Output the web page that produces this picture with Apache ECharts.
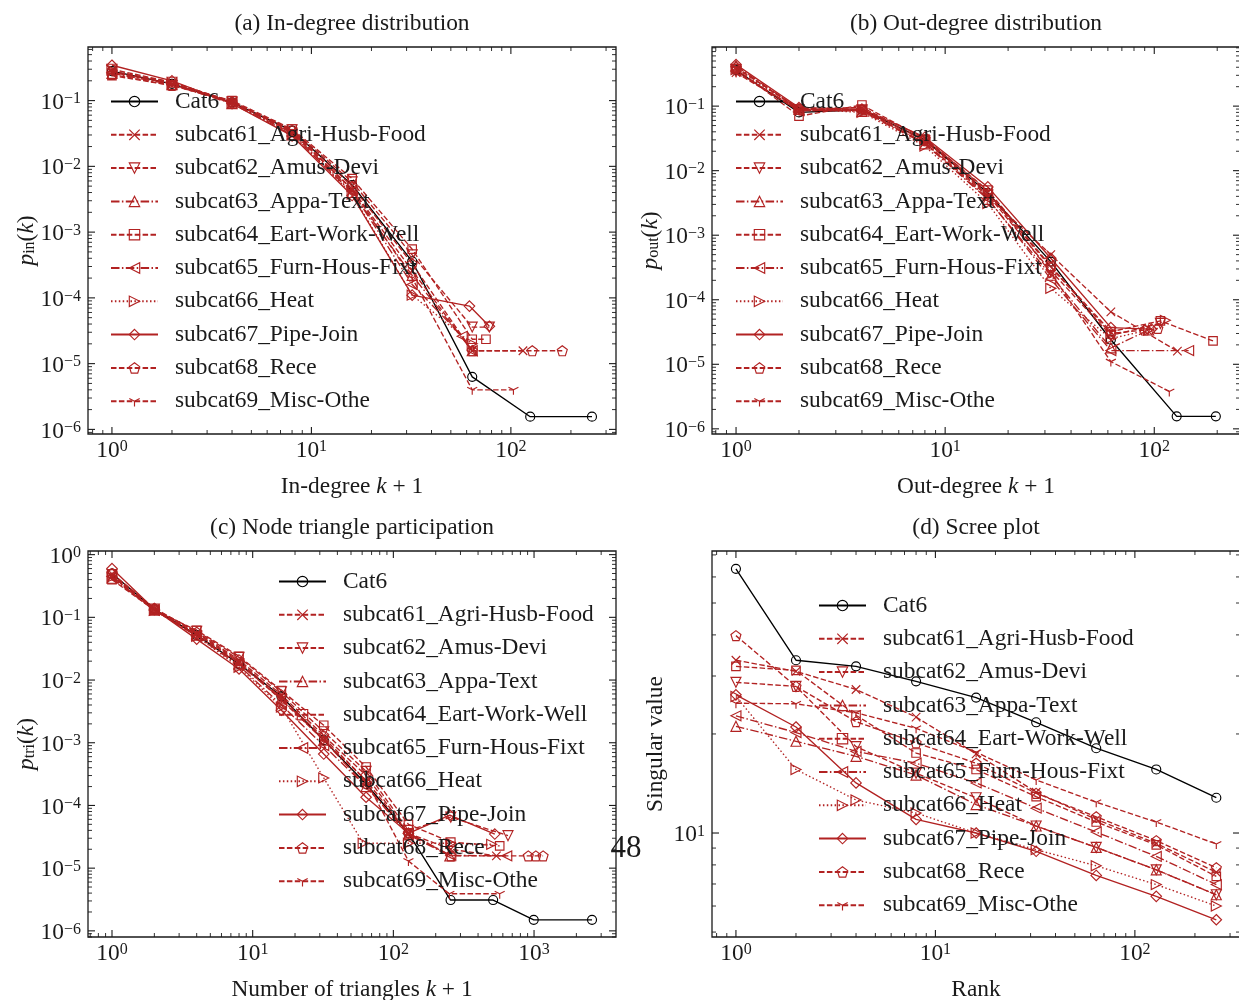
<!DOCTYPE html>
<html>
<head>
<meta charset="utf-8">
<script src="https://cdn.jsdelivr.net/npm/echarts@6/dist/echarts.min.js"></script>
<style>
  html, body { margin: 0; padding: 0; background: #fff; }
  #chart { width: 1239px; height: 1000px; }
</style>
</head>
<body>
<div id="chart"></div>
<script>
// ---------------- data ----------------
const seriesNames = [
  'Cat6', 'subcat61_Agri-Husb-Food', 'subcat62_Amus-Devi', 'subcat63_Appa-Text',
  'subcat64_Eart-Work-Well', 'subcat65_Furn-Hous-Fixt', 'subcat66_Heat',
  'subcat67_Pipe-Join', 'subcat68_Rece', 'subcat69_Misc-Othe'
];

// (a) in-degree: k+1 and p_in(k), one list per series (same order as seriesNames)
const inDegK = [
  [1, 2, 4, 8, 16, 32, 64, 125, 255],
  [1, 2, 4, 8, 16, 32, 64, 115],
  [1, 2, 4, 8, 16, 32, 64, 78],
  [1, 2, 4, 8, 16, 32, 64],
  [1, 2, 4, 8, 16, 32, 64, 75],
  [1, 2, 4, 8, 16, 32, 57, 64],
  [1, 2, 4, 8, 16, 32, 64],
  [1, 2, 4, 8, 16, 32, 62, 78],
  [1, 2, 4, 8, 16, 32, 64, 128, 181],
  [1, 2, 4, 8, 16, 32, 64, 103]
];
const inDegP = [
  [0.28, 0.18, 0.094, 0.035, 0.0052, 3.6e-4, 6.3e-6, 1.56e-6, 1.56e-6],
  [0.27, 0.18, 0.095, 0.034, 0.0045, 2.6e-4, 1.57e-5, 1.57e-5],
  [0.30, 0.19, 0.096, 0.036, 0.0058, 4.5e-4, 3.6e-5, 3.6e-5],
  [0.26, 0.175, 0.090, 0.030, 0.0040, 2.2e-4, 1.57e-5],
  [0.24, 0.17, 0.100, 0.037, 0.0065, 5.5e-4, 2.35e-5, 2.35e-5],
  [0.27, 0.18, 0.093, 0.032, 0.0042, 1.6e-4, 2.6e-5, 1.57e-5],
  [0.29, 0.18, 0.092, 0.031, 0.0038, 1.1e-4, 2.0e-5],
  [0.345, 0.20, 0.090, 0.029, 0.0036, 1.1e-4, 7.5e-5, 3.7e-5],
  [0.25, 0.17, 0.095, 0.035, 0.0050, 3.3e-4, 1.57e-5, 1.57e-5, 1.57e-5],
  [0.28, 0.19, 0.097, 0.033, 0.0045, 2.0e-4, 4.0e-6, 4.0e-6]
];

// (b) out-degree: k+1 and p_out(k)
const outDegK = [
  [1, 2, 4, 8, 16, 32, 62, 128, 197],
  [1, 2, 4, 8, 16, 32, 62, 129],
  [1, 2, 4, 8, 16, 32, 62, 107],
  [1, 2, 4, 8, 16, 32, 62, 94],
  [1, 2, 4, 8, 16, 32, 62, 107, 191],
  [1, 2, 4, 8, 16, 32, 62, 146],
  [1, 2, 4, 8, 16, 32, 62, 94, 113],
  [1, 2, 4, 8, 16, 32, 62, 97],
  [1, 2, 4, 8, 16, 32, 62, 90, 104],
  [1, 2, 4, 8, 16, 32, 62, 118]
];
const outDegP = [
  [0.36, 0.080, 0.088, 0.030, 0.0045, 3.9e-4, 2.4e-5, 1.56e-6, 1.56e-6],
  [0.33, 0.085, 0.085, 0.027, 0.0040, 5.0e-4, 6.5e-5, 1.6e-5],
  [0.34, 0.088, 0.088, 0.029, 0.0042, 2.8e-4, 2.8e-5, 4.3e-5],
  [0.42, 0.090, 0.083, 0.026, 0.0036, 2.4e-4, 1.8e-5, 3.4e-5],
  [0.38, 0.070, 0.104, 0.031, 0.0050, 3.3e-4, 3.2e-5, 4.7e-5, 2.3e-5],
  [0.35, 0.085, 0.086, 0.027, 0.0037, 2.1e-4, 1.63e-5, 1.63e-5],
  [0.37, 0.090, 0.080, 0.024, 0.0031, 1.5e-4, 2.5e-5, 3.4e-5, 4.8e-5],
  [0.44, 0.095, 0.090, 0.033, 0.0056, 4.4e-4, 3.7e-5, 3.5e-5],
  [0.40, 0.090, 0.087, 0.030, 0.0045, 3.2e-4, 3.0e-5, 3.4e-5, 3.6e-5],
  [0.39, 0.092, 0.095, 0.032, 0.0048, 2.6e-4, 1.1e-5, 3.8e-6]
];

// (c) node triangle participation: k+1 and p_tri(k)
const triK = [
  [1, 2, 4, 8, 16, 32, 64, 128, 255, 512, 995, 2583],
  [1, 2, 4, 8, 16, 32, 64, 128, 256, 540],
  [1, 2, 4, 8, 16, 32, 64, 128, 256, 653],
  [1, 2, 4, 8, 16, 32, 64, 128, 252],
  [1, 2, 4, 8, 16, 32, 64, 128, 256, 570],
  [1, 2, 4, 8, 16, 32, 64, 128, 256, 640],
  [1, 2, 4, 8, 16, 32, 61, 128, 256, 500],
  [1, 2, 4, 8, 16, 32, 64, 128, 252, 526],
  [1, 2, 4, 8, 16, 32, 64, 128, 256, 910, 1030, 1160],
  [1, 2, 4, 8, 16, 32, 64, 128, 250, 570]
];
const triP = [
  [0.50, 0.135, 0.052, 0.018, 0.0055, 0.0011, 2.2e-4, 3.6e-5, 3.1e-6, 3.1e-6, 1.5e-6, 1.5e-6],
  [0.45, 0.130, 0.055, 0.019, 0.0048, 0.0011, 2.5e-4, 3.6e-5, 2.0e-5, 1.57e-5],
  [0.48, 0.135, 0.060, 0.023, 0.0065, 0.0015, 3.5e-4, 4.0e-5, 6.5e-5, 3.3e-5],
  [0.42, 0.130, 0.052, 0.018, 0.0050, 0.0011, 2.0e-4, 3.4e-5, 1.57e-5],
  [0.40, 0.130, 0.062, 0.024, 0.0068, 0.0019, 4.1e-4, 5.0e-5, 2.6e-5, 2.26e-5],
  [0.45, 0.130, 0.050, 0.017, 0.0040, 9.0e-4, 2.0e-4, 3.6e-5, 1.6e-5, 1.57e-5],
  [0.44, 0.130, 0.050, 0.016, 0.0037, 2.75e-4, 2.5e-5, 2.5e-5, 2.5e-5, 2.4e-5],
  [0.60, 0.135, 0.045, 0.015, 0.0033, 6.6e-4, 1.35e-4, 3.6e-5, 7.0e-5, 3.5e-5],
  [0.50, 0.140, 0.058, 0.021, 0.0058, 0.0013, 3.0e-4, 3.6e-5, 1.57e-5, 1.57e-5, 1.57e-5, 1.57e-5],
  [0.47, 0.130, 0.056, 0.020, 0.0052, 0.0012, 2.5e-4, 1.3e-5, 3.9e-6, 3.9e-6]
];

// (d) scree plot: rank and singular value
const screeRank = [1, 2, 4, 8, 16, 32, 64, 128, 256];
const screeSV = [
  [63.5, 33.5, 32.1, 28.9, 25.8, 21.7, 18.1, 15.6, 12.8],
  [33.5, 31.0, 27.3, 22.5, 17.4, 13.3, 11.0, 9.3, 7.6],
  [28.7, 27.9, 18.3, 15.2, 12.8, 10.5, 9.04, 7.73, 6.49],
  [21.1, 19.0, 17.1, 15.0, 12.2, 10.5, 9.04, 7.73, 6.49],
  [32.1, 31.2, 22.8, 17.5, 15.6, 12.9, 10.8, 9.2, 7.38],
  [22.7, 20.2, 17.7, 16.3, 14.2, 11.9, 10.07, 8.49, 6.97],
  [26.0, 15.6, 12.6, 11.5, 10.0, 8.9, 7.95, 6.97, 6.0],
  [26.3, 21.0, 14.2, 11.0, 10.0, 8.8, 7.43, 6.42, 5.45],
  [39.8, 27.9, 21.8, 18.8, 16.3, 13.2, 11.2, 9.48, 7.84],
  [24.8, 24.7, 23.2, 20.8, 17.6, 14.5, 12.4, 10.8, 9.26]
];

// decade tick labels (exponents of 10) per panel
const tickExpX = [[0, 1, 2], [0, 1, 2], [0, 1, 2, 3], [0, 1, 2]];
const tickExpY = [[-6, -5, -4, -3, -2, -1], [-6, -5, -4, -3, -2, -1], [-6, -5, -4, -3, -2, -1, 0], [1]];

// ---------------- styles & layout ----------------
const FONT = '"Liberation Serif", "Times New Roman", serif';
const FS = 23.4;
const INK = '#1a1a1a';
const RED = '#b22222';
const seriesColor = ['#000000', RED, RED, RED, RED, RED, RED, RED, RED, RED];
const seriesMarker = ['o', 'x', 'v', '^', 's', '<', '>', 'D', 'p', '1'];
const seriesDash = ['solid', 'dashed', 'dashed', 'dashdot', 'dashed', 'dashdot', 'dotted', 'solid', 'dashed', 'dashed'];
const DASH = { solid: 'solid', dashed: [5.5, 2.4], dashdot: [8.5, 2.4, 1.5, 2.4], dotted: [1.5, 2.4] };
const MARKS = {
  'o': { symbol: 'circle', size: 9 },
  'x': { symbol: 'path://M0,0L10,10M10,0L0,10', size: 8.5 },
  'v': { symbol: 'path://M0,0L10,0L5,10Z', size: 10 },
  '^': { symbol: 'path://M5,0L10,10L0,10Z', size: 10 },
  's': { symbol: 'rect', size: 8.5 },
  '<': { symbol: 'path://M0,5L10,0L10,10Z', size: 10 },
  '>': { symbol: 'path://M10,5L0,0L0,10Z', size: 10 },
  'D': { symbol: 'path://M5,0L10,5L5,10L0,5Z', size: 10.5 },
  'p': { symbol: 'path://M5,0L9.76,3.45L7.94,9.05L2.06,9.05L0.24,3.45Z', size: 10 },
  '1': { symbol: 'path://M5,0L5,0M5,5L5,10M5,5L0.67,2.5M5,5L9.33,2.5', size: 10 }
};

// log10 axis extents of each panel
const panelRange = [
  { x: [-0.12, 2.527], y: [-6.07, -0.185] },
  { x: [-0.115, 2.41], y: [-6.08, -0.084] },
  { x: [-0.1706, 3.5826], y: [-6.098, 0.058] },
  { x: [-0.12, 2.527], y: [0.684, 1.857] }
];
const grids = [
  { left: 88, top: 47, width: 528, height: 387 },
  { left: 712, top: 47, width: 528, height: 387 },
  { left: 88, top: 551, width: 528, height: 386 },
  { left: 712, top: 551, width: 528, height: 386 }
];
const legendPos = [
  { left: 110, top: 90 }, { left: 735, top: 90 },
  { left: 278, top: 570 }, { left: 818, top: 594 }
];
const titles = [
  { text: '(a) In-degree distribution', x: 352, y: 24 },
  { text: '(b) Out-degree distribution', x: 976, y: 24 },
  { text: '(c) Node triangle participation', x: 352, y: 528 },
  { text: '(d) Scree plot', x: 976, y: 528 }
];
const xNames = ['{n|In-degree }{i|k}{n| + 1}', '{n|Out-degree }{i|k}{n| + 1}',
                '{n|Number of triangles }{i|k}{n| + 1}', '{n|Rank}'];
const yNames = ['{i|p}{sub|in}{n|(}{i|k}{n|)}', '{i|p}{sub|out}{n|(}{i|k}{n|)}',
                '{i|p}{sub|tri}{n|(}{i|k}{n|)}', '{n|Singular value}'];

const nameRich = {
  n: { fontFamily: FONT, fontSize: FS, lineHeight: 23, color: INK, verticalAlign: 'top', padding: [0, 0, 4, 0] },
  i: { fontFamily: FONT, fontSize: FS, lineHeight: 23, color: INK, fontStyle: 'italic', verticalAlign: 'top', padding: [0, 0, 4, 0] },
  sub: { fontFamily: FONT, fontSize: 16, lineHeight: 16, color: INK, verticalAlign: 'bottom' }
};
const tickRich = {
  b: { fontFamily: FONT, fontSize: FS, lineHeight: 23, padding: [6, 0, 0, 0], verticalAlign: 'bottom', fill: INK },
  s: { fontFamily: FONT, fontSize: 16, lineHeight: 16, verticalAlign: 'top', fill: INK }
};

// ---------------- helpers ----------------
function logTicks(range) {
  const out = [];
  for (let n = Math.floor(range[0]); n <= Math.ceil(range[1]); n++) {
    for (let m = 1; m <= 9; m++) {
      const v = n + Math.log10(m);
      if (v > range[0] + 1e-9 && v < range[1] - 1e-9) out.push({ v: v, major: m === 1 });
    }
  }
  return out;
}
const expText = e => (e < 0 ? '\u2212' + (-e) : String(e));

// inward ticks on all four sides plus 10^n labels, placed through the axis scales
function frameSeries(p) {
  const r = panelRange[p];
  return {
    type: 'custom', xAxisIndex: p, yAxisIndex: p, silent: true, clip: false, z: 4,
    data: [[r.x[0], r.y[0]]],
    renderItem: function (params, api) {
      const bl = api.coord([r.x[0], r.y[0]]);
      const tr = api.coord([r.x[1], r.y[1]]);
      const L = bl[0], B = bl[1], R = tr[0], T = tr[1];
      const kids = [];
      const seg = (x1, y1, x2, y2, w) => kids.push({
        type: 'line', shape: { x1: x1, y1: y1, x2: x2, y2: y2 },
        style: { stroke: INK, lineWidth: w }
      });
      logTicks(r.x).forEach(t => {
        const px = api.coord([t.v, r.y[0]])[0];
        const len = t.major ? 7 : 4, w = t.major ? 1.1 : 0.9;
        seg(px, B, px, B - len, w);
        seg(px, T, px, T + len, w);
      });
      logTicks(r.y).forEach(t => {
        const py = api.coord([r.x[0], t.v])[1];
        const len = t.major ? 7 : 4, w = t.major ? 1.1 : 0.9;
        seg(L, py, L + len, py, w);
        seg(R, py, R - len, py, w);
      });
      tickExpX[p].forEach(e => {
        const px = api.coord([e, r.y[0]])[0];
        kids.push({
          type: 'text', x: px, y: B + 5,
          style: { text: '{b|10}{s|' + expText(e) + '}', rich: tickRich, align: 'center', verticalAlign: 'top' }
        });
      });
      tickExpY[p].forEach(e => {
        const py = api.coord([r.x[0], e])[1];
        kids.push({
          type: 'text', x: L - 7, y: py + 2,
          style: { text: '{b|10}{s|' + expText(e) + '}', rich: tickRich, align: 'right', verticalAlign: 'middle' }
        });
      });
      return { type: 'group', children: kids };
    }
  };
}

function panelSeries(p, xsList, ysList) {
  return seriesNames.map((name, i) => {
    const xs = xsList[i], ys = ysList[i];
    const mk = MARKS[seriesMarker[i]];
    return {
      type: 'line', name: name, xAxisIndex: p, yAxisIndex: p,
      data: xs.map((x, j) => [Math.log10(x), Math.log10(ys[j])]),
      symbol: mk.symbol, symbolSize: mk.size, showSymbol: true, showAllSymbol: true,
      lineStyle: { color: seriesColor[i], width: 1.35, type: DASH[seriesDash[i]] },
      itemStyle: { color: 'rgba(255,255,255,0)', borderColor: seriesColor[i], borderWidth: 1.15 },
      emphasis: { disabled: true }, z: 2
    };
  });
}

// ---------------- option ----------------
const screeRanks = seriesNames.map(() => screeRank);
const series = [].concat(
  panelSeries(0, inDegK, inDegP),
  panelSeries(1, outDegK, outDegP),
  panelSeries(2, triK, triP),
  panelSeries(3, screeRanks, screeSV),
  [0, 1, 2, 3].map(frameSeries)
);

const option = {
  animation: false,
  backgroundColor: '#ffffff',
  grid: grids.map(g => Object.assign({
    show: true, borderColor: INK, borderWidth: 1.3, backgroundColor: 'transparent',
    containLabel: false, outerBoundsMode: 'none'
  }, g)),
  xAxis: panelRange.map((r, p) => ({
    type: 'value', gridIndex: p, min: r.x[0], max: r.x[1],
    axisLine: { show: false }, axisTick: { show: false }, axisLabel: { show: false }, splitLine: { show: false },
    name: xNames[p], nameLocation: 'middle', nameGap: 41,
    nameTextStyle: { fontFamily: FONT, fontSize: FS, color: INK, rich: nameRich }
  })),
  yAxis: panelRange.map((r, p) => ({
    type: 'value', gridIndex: p, min: r.y[0], max: r.y[1],
    axisLine: { show: false }, axisTick: { show: false }, axisLabel: { show: false }, splitLine: { show: false },
    name: yNames[p], nameLocation: 'middle', nameRotate: 90, nameGap: p === 3 ? 45 : 50,
    nameTextStyle: { fontFamily: FONT, fontSize: FS, color: INK, rich: nameRich }
  })),
  legend: legendPos.map(lp => ({
    data: seriesNames, orient: 'vertical', left: lp.left, top: lp.top, padding: 0,
    itemWidth: 47, itemHeight: 13, itemGap: 10.3, selectedMode: false,
    itemStyle: { color: 'rgba(255,255,255,0)', borderWidth: 1.15 },
    textStyle: { fontFamily: FONT, fontSize: FS, lineHeight: 22, color: INK, padding: [0, 0, 0, 12] }
  })),
  graphic: titles.map(t => ({
    type: 'text', x: t.x, y: t.y, silent: true,
    style: { text: t.text, font: FS + 'px ' + FONT, fill: INK, textAlign: 'center', textVerticalAlign: 'middle' }
  })).concat([{
    type: 'text', x: 626, y: 849, silent: true,
    style: { text: '48', font: '31px ' + FONT, fill: INK, textAlign: 'center', textVerticalAlign: 'middle' }
  }]),
  series: series
};

const chart = echarts.init(document.getElementById('chart'), null, { renderer: 'canvas', width: 1239, height: 1000 });
chart.setOption(option);
</script>
</body>
</html>
